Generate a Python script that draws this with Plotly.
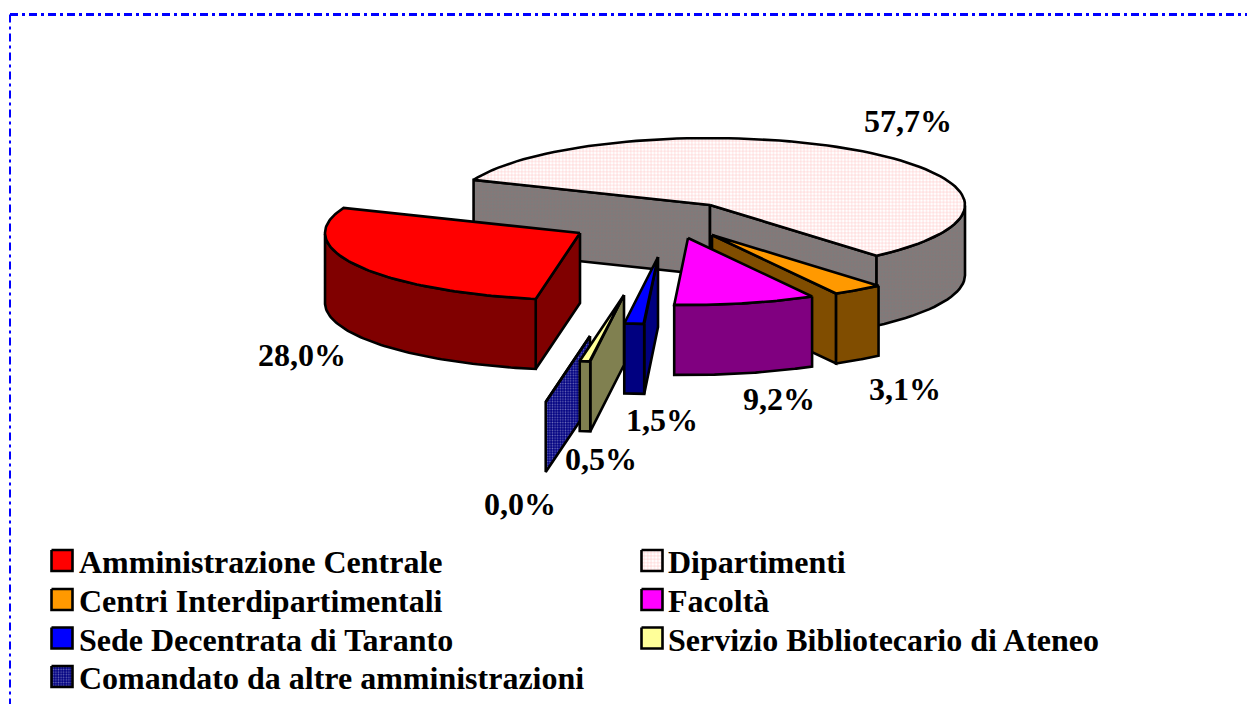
import numpy as np
import plotly.graph_objects as go

# ---- data ----
categories = ["Amministrazione Centrale", "Dipartimenti", "Centri Interdipartimentali", "Facoltà",
              "Sede Decentrata di Taranto", "Servizio Bibliotecario di Ateneo", "Comandato da altre amministrazioni"]
values = [28.0, 57.7, 3.1, 9.2, 1.5, 0.5, 0.0]

# ---- styling / layout ----
top_colors = ["#ff0000", None, "#ff9900", "#ff00ff", "#0000ff", "#ffff99", None]
wall_colors = ["#800000", None, "#804d00", "#800080", "#000080", "#808050", None]
PAT_TOP = dict(shape="+", size=3.4, solidity=0.3, fgcolor="#ff9090", bgcolor="#ffffff")
PAT_WALL = dict(shape="+", size=3.4, solidity=0.3, fgcolor="#a06a6a", bgcolor="#7c7c7c")
PAT_DOT = dict(shape=".", size=2.6, solidity=0.3, fgcolor="#d8d8f0", bgcolor="#000080")
top_patterns = [None, PAT_TOP, None, None, None, None, PAT_DOT]
wall_patterns = [None, PAT_WALL, None, None, None, None, PAT_DOT]

centers = [(580, 233), (710, 205), (712, 235), (688, 238), (658, 257), (624, 295), (590, 336)]
boundary_nudge = [1.2, 0, 0.5, 0, 0.9, 1.8, 1.2, 1.2]
draw_order = [1, 2, 3, 4, 6, 5, 0]
RX, RY, DEPTH = 255.0, 67.0, 70.0
START_PARAM = 158.0  # where the first-to-second slice boundary lies on the ellipse
FONT = "Liberation Serif"
STROKE = 2.6

label_pos = [(302, 355), (908, 121), (905, 389), (779, 399), (662, 420), (601, 459), (520, 504)]
LABEL_SIZE = 32
LEGEND_SIZE = 32
legend_cols = [(51.5, 77), (641.5, 666)]
legend_rows = [560.5, 599.5, 638, 676.5]
SWATCH = 21

total = sum(values)
sweep = [v / total * 360 for v in values]
first = START_PARAM + sweep[0]
bounds = [first - sum(sweep[:i]) + boundary_nudge[i] for i in range(len(values) + 1)]

fig = go.Figure()


def poly(xs, ys, name, color=None, pattern=None, lw=STROKE):
    tr = dict(x=list(xs) + [xs[0]], y=list(ys) + [ys[0]], mode="lines", fill="toself",
              line=dict(color="#000000", width=lw), name=name, showlegend=False, hoverinfo="name")
    if pattern:
        tr["fillpattern"] = pattern
        tr["fillcolor"] = pattern["bgcolor"]
    else:
        tr["fillcolor"] = color
    fig.add_trace(go.Scatter(**tr))


def ell(cx, cy, t):
    r = np.radians(t)
    return cx + RX * np.cos(r), cy - RY * np.sin(r)


for i in draw_order:
    cx, cy = centers[i]
    t0, t1 = bounds[i], bounds[i + 1]  # clockwise from t0 to t1
    name = categories[i]
    wc, wp = wall_colors[i], wall_patterns[i]
    # straight inner walls that face the viewer
    if np.cos(np.radians(t0)) < 0:
        ex, ey = ell(cx, cy, t0)
        poly([cx, ex, ex, cx], [cy, ey, ey + DEPTH, cy + DEPTH], name, wc, wp)
    if np.cos(np.radians(t1)) > 0:
        ex, ey = ell(cx, cy, t1)
        poly([cx, ex, ex, cx], [cy, ey, ey + DEPTH, cy + DEPTH], name, wc, wp)
    # curved outer wall (only the front half of the ellipse)
    ts = np.linspace(t0, t1, 90)
    front = [t for t in ts if np.sin(np.radians(t)) <= 0]
    if len(front) > 1 and t0 - t1 > 0:
        ax, ay = ell(cx, cy, np.array(front))
        poly(list(ax) + list(ax[::-1]), list(ay) + list(ay[::-1] + DEPTH), name, wc, wp)
    # top face
    ax, ay = ell(cx, cy, ts)
    poly([cx] + list(ax), [cy] + list(ay), name, top_colors[i], top_patterns[i])

annotations = []
for (x, y), v in zip(label_pos, values):
    annotations.append(dict(x=x, y=y, xref="x", yref="y", showarrow=False, xanchor="center", yanchor="middle",
                            text=f"<b>{v:.1f}%</b>".replace(".", ","),
                            font=dict(family=FONT, size=LABEL_SIZE, color="#000000")))

# legend, laid out in two columns as in the original
for k, cat in enumerate(categories):
    (sx, tx), ry = legend_cols[k % 2], legend_rows[k // 2]
    poly([sx, sx + SWATCH, sx + SWATCH, sx], [ry - SWATCH / 2, ry - SWATCH / 2, ry + SWATCH / 2, ry + SWATCH / 2],
         cat, top_colors[k], top_patterns[k], lw=2.6)
    annotations.append(dict(x=tx, y=ry + 1.5, xref="x", yref="y", showarrow=False, xanchor="left", yanchor="middle",
                            text=f"<b>{cat}</b>", font=dict(family=FONT, size=LEGEND_SIZE, color="#000000")))

shapes = [dict(type="line", xref="x", yref="y", x0=10, x1=1247, y0=14.5, y1=14.5,
               line=dict(color="#0000ff", width=3, dash="8px,4px,3px,4px")),
          dict(type="line", xref="x", yref="y", x0=10, x1=10, y0=14.5, y1=704,
               line=dict(color="#0000ff", width=2, dash="8px,4px,3px,4px"))]

fig.update_layout(width=1247, height=704, margin=dict(l=0, r=0, t=0, b=0), paper_bgcolor="#ffffff",
                  plot_bgcolor="#ffffff", showlegend=False, annotations=annotations, shapes=shapes,
                  xaxis=dict(range=[0, 1247], visible=False, fixedrange=True),
                  yaxis=dict(range=[704, 0], visible=False, fixedrange=True))
fig.write_html("out.html", post_script="document.body.style.margin='0';", config=dict(displayModeBar=False))
